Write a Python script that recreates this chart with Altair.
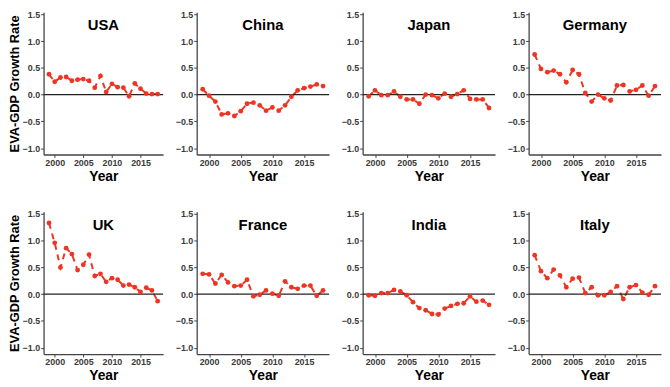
import altair as alt
import pandas as pd

years = list(range(1999, 2019))
countries = ["USA", "China", "Japan", "Germany", "UK", "France", "India", "Italy"]

usa = [0.38, 0.24, 0.32, 0.33, 0.26, 0.28, 0.29, 0.26, 0.13, 0.35,
       0.05, 0.20, 0.14, 0.13, -0.03, 0.21, 0.11, 0.02, 0.01, 0.01]
china = [0.10, -0.02, -0.13, -0.37, -0.35, -0.40, -0.31, -0.17, -0.15, -0.20,
         -0.30, -0.24, -0.30, -0.20, -0.04, 0.08, 0.12, 0.15, 0.19, 0.16]
japan = [-0.03, 0.08, -0.01, -0.01, 0.06, -0.04, -0.09, -0.09, -0.17, 0.00,
         -0.01, -0.07, 0.02, -0.04, 0.01, 0.08, -0.08, -0.09, -0.09, -0.25]
germany = [0.75, 0.48, 0.42, 0.45, 0.38, 0.23, 0.46, 0.38, 0.03, -0.13,
           0.00, -0.07, -0.11, 0.17, 0.18, 0.06, 0.09, 0.17, -0.02, 0.16]
uk = [1.33, 0.96, 0.50, 0.86, 0.75, 0.45, 0.55, 0.74, 0.34, 0.38,
      0.23, 0.30, 0.27, 0.16, 0.18, 0.13, 0.04, 0.12, 0.07, -0.13]
france = [0.38, 0.37, 0.20, 0.36, 0.22, 0.15, 0.16, 0.27, -0.04, -0.01,
          0.07, 0.01, -0.03, 0.24, 0.13, 0.10, 0.16, 0.16, -0.03, 0.07]
india = [-0.02, -0.03, 0.02, 0.02, 0.08, 0.05, -0.02, -0.15, -0.26, -0.30,
         -0.37, -0.38, -0.27, -0.22, -0.18, -0.17, -0.04, -0.14, -0.12, -0.20]
italy = [0.73, 0.43, 0.30, 0.46, 0.35, 0.13, 0.29, 0.31, 0.02, 0.13,
         -0.02, -0.02, 0.04, 0.15, -0.09, 0.13, 0.17, 0.03, -0.01, 0.15]

series = [usa, china, japan, germany, uk, france, india, italy]
x_ticks = [2000, 2005, 2010, 2015]
y_ticks = [-1.0, -0.5, 0.0, 0.5, 1.0, 1.5]
y_domain = [-1.12, 1.54]

rows = []
for c, vals in zip(countries, series):
    for yr, v in zip(years, vals):
        rows.append({"Country": c, "Year": yr, "Rate": v})
df = pd.DataFrame(rows)
zero_df = pd.DataFrame({"Rate": [0.0]})

RED = "#EE3524"
FONT = "Liberation Sans"


def panel(country, width, first_col):
    x = alt.X("Year:Q",
              scale=alt.Scale(domain=[1998.05, 2018.95], nice=False, zero=False),
              axis=alt.Axis(values=x_ticks, format="d", title="Year"))
    if first_col:
        yaxis = alt.Axis(values=y_ticks, format=".1f", title="EVA-GDP Growth Rate",
                         labelOverlap=False, titleFontSize=13, titlePadding=1)
    else:
        yaxis = alt.Axis(values=y_ticks, format=".1f", title=None, labelOverlap=False)
    y = alt.Y("Rate:Q", scale=alt.Scale(domain=y_domain, nice=False, zero=False),
              axis=yaxis)
    base = alt.Chart(df).transform_filter(alt.datum.Country == country)
    line = base.mark_line(color=RED, strokeWidth=2, strokeDash=[6, 5]).encode(x=x, y=y)
    pts = base.mark_circle(color=RED, size=24, opacity=1).encode(x=x, y=y)
    rule = alt.Chart(zero_df).mark_rule(color="#222222", strokeWidth=1.2).encode(y=y)
    return alt.layer(line, rule, pts).properties(
        width=width, height=144,
        title=alt.TitleParams(text=country, fontSize=15, fontWeight="bold", font=FONT,
                              color="black", anchor="middle", offset=-23))


row1 = alt.hconcat(*[panel(c, 121 if i == 0 else 134, i == 0)
                     for i, c in enumerate(countries[:4])], spacing=11)
row2 = alt.hconcat(*[panel(c, 121 if i == 0 else 134, i == 0)
                     for i, c in enumerate(countries[4:])], spacing=11)

chart = alt.vconcat(row1, row2, spacing=27).properties(
    padding={"left": 0, "top": 0, "right": 0, "bottom": 0}
).configure_view(stroke=None).configure_axis(
    grid=False, domainColor="#444444", domainWidth=1.3, tickColor="#444444",
    tickSize=3, labelFont=FONT, labelFontSize=9, labelFontWeight="bold",
    labelColor="#3A3A3A", labelPadding=1, titleFont=FONT, titleFontSize=14,
    titleFontWeight="bold", titleColor="black", titlePadding=2
)

chart.save("out.html", embed_options={"renderer": "svg", "actions": False})
